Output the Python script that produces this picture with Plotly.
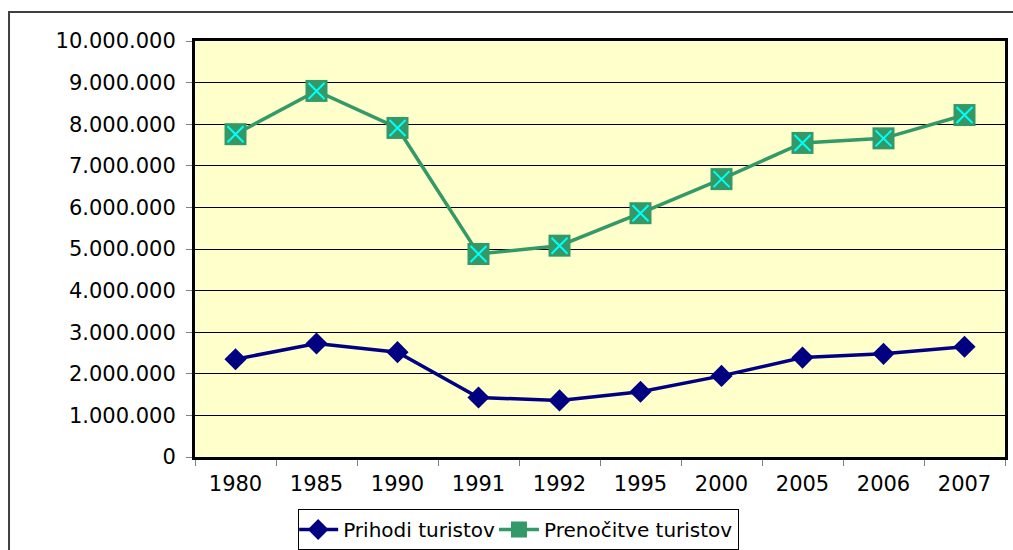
import plotly.graph_objects as go

years = ["1980", "1985", "1990", "1991", "1992", "1995", "2000", "2005", "2006", "2007"]
prihodi = [2350000, 2730000, 2520000, 1430000, 1360000, 1570000, 1950000, 2390000, 2480000, 2650000]
prenocitve = [7760000, 8800000, 7910000, 4880000, 5080000, 5860000, 6680000, 7550000, 7660000, 8220000]
y_ticks = [0, 1000000, 2000000, 3000000, 4000000, 5000000, 6000000, 7000000, 8000000, 9000000, 10000000]

FONT = "DejaVu Sans"
FS = 21

fig = go.Figure()
fig.add_trace(go.Scatter(
    x=years, y=prihodi, mode="lines+markers", name="Prihodi turistov",
    line=dict(color="#000080", width=3.5),
    marker=dict(symbol="diamond", size=17, color="#000080"),
))
fig.add_trace(go.Scatter(
    x=years, y=prenocitve, mode="lines+markers", name="Prenočitve turistov",
    line=dict(color="#339966", width=3.5),
    marker=dict(symbol="square", size=22, color="#339966", line=dict(width=0)),
))
fig.add_trace(go.Scatter(
    x=years, y=prenocitve, mode="markers", showlegend=False, hoverinfo="skip",
    marker=dict(symbol="x-thin-open", size=16, color="#00FFFF",
                line=dict(color="#00FFFF", width=2)),
))

fig.add_shape(type="rect", xref="paper", yref="paper",
              x0=-0.2296, y0=-0.35, x1=1.05, y1=1.0697,
              line=dict(color="#404040", width=2), fillcolor="rgba(0,0,0,0)", layer="below")

fig.update_layout(
    width=1013, height=550,
    margin=dict(l=195, r=8, t=41, b=93, autoexpand=False),
    paper_bgcolor="white", plot_bgcolor="#FFFFCC",
    separators=",.",
    font=dict(family=FONT, size=FS, color="black"),
    showlegend=True,
    legend=dict(orientation="h", xref="container", yref="container",
                x=0.512, xanchor="center", y=0.0, yanchor="bottom",
                bordercolor="black", borderwidth=1, bgcolor="white",
                font=dict(family=FONT, size=20), itemwidth=40, tracegroupgap=0,
                indentation=-6),
)
fig.update_xaxes(
    type="category", range=[-0.5, 9.5], tickson="boundaries", automargin=False,
    ticks="outside", ticklen=6, tickcolor="#808080", tickwidth=1,
    showline=True, linecolor="black", linewidth=3, mirror=True,
    showgrid=False, tickfont=dict(family=FONT, size=FS), ticklabelstandoff=6,
)
fig.update_yaxes(
    range=[0, 10000000], tickvals=y_ticks, tickformat=",d", automargin=False,
    ticks="outside", ticklen=6, tickcolor="#808080", tickwidth=1,
    showline=True, linecolor="black", linewidth=3, mirror=True,
    showgrid=True, gridcolor="black", gridwidth=1, zeroline=False,
    tickfont=dict(family=FONT, size=FS), ticklabelstandoff=6,
)

fig.write_html("out.html", config={"displayModeBar": False},
               post_script="document.body.style.margin='0';")
